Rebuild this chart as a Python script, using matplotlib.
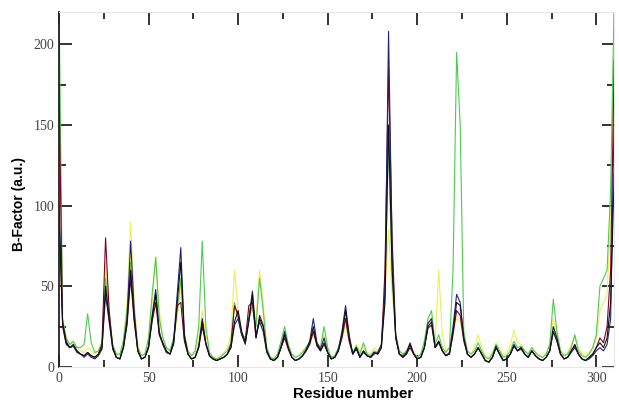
import numpy as np
import matplotlib.pyplot as plt
from matplotlib.ticker import MultipleLocator

# residue numbers, every 2nd residue
residues = list(range(0, 311, 2))

black = [95, 27, 15, 12, 14, 10, 8, 7, 9, 7, 6, 8, 12,
         50, 30, 12, 6, 5, 12, 28, 60, 30, 10, 5, 6, 12,
         30, 45, 20, 15, 10, 8, 15, 40, 65, 18, 8, 5, 6,
         12, 28, 15, 7, 5, 4, 5, 6, 8, 12, 28, 35, 22,
         15, 28, 45, 18, 30, 25, 10, 5, 4, 6, 12, 20, 12,
         6, 4, 5, 7, 10, 15, 25, 14, 10, 15, 9, 5, 6,
         10, 20, 35, 18, 8, 12, 6, 10, 7, 6, 9, 8, 12,
         40, 150, 60, 18, 8, 6, 8, 14, 8, 5, 6, 12, 25,
         28, 12, 16, 10, 7, 8, 22, 40, 38, 18, 8, 6, 8,
         12, 8, 4, 3, 6, 12, 8, 4, 5, 8, 13, 10, 12,
         8, 6, 10, 7, 5, 4, 6, 10, 25, 18, 8, 5, 6,
         10, 14, 8, 5, 4, 6, 8, 12, 15, 12, 18, 40, 120]

navy = [100, 28, 16, 12, 13, 9, 8, 6, 8, 6, 5, 7, 11,
        45, 28, 11, 6, 5, 13, 30, 78, 35, 10, 5, 6, 13,
        32, 48, 22, 14, 9, 8, 16, 45, 74, 20, 8, 5, 6,
        13, 30, 14, 7, 5, 4, 5, 6, 8, 12, 26, 30, 20,
        14, 30, 47, 20, 28, 22, 9, 5, 4, 6, 13, 22, 12,
        6, 4, 5, 7, 11, 16, 30, 15, 11, 18, 9, 5, 6,
        11, 22, 38, 20, 8, 11, 6, 9, 7, 6, 8, 9, 14,
        45, 208, 70, 18, 8, 7, 9, 15, 8, 5, 6, 12, 27,
        30, 12, 15, 10, 7, 9, 25, 45, 40, 18, 8, 6, 8,
        12, 8, 4, 3, 6, 13, 8, 4, 5, 8, 14, 10, 11,
        8, 6, 10, 7, 5, 4, 6, 10, 22, 16, 8, 5, 6,
        9, 12, 8, 5, 4, 5, 7, 10, 12, 10, 14, 30, 160]

maroon = [175, 25, 14, 12, 13, 10, 8, 7, 9, 7, 6, 8, 14,
          80, 35, 12, 6, 5, 12, 26, 55, 28, 10, 5, 6, 12,
          28, 40, 20, 14, 9, 8, 14, 38, 40, 16, 8, 5, 6,
          12, 25, 14, 7, 5, 4, 5, 6, 8, 14, 38, 32, 20,
          16, 38, 40, 18, 32, 26, 10, 5, 4, 6, 12, 18, 11,
          6, 4, 5, 7, 10, 14, 22, 13, 10, 14, 9, 5, 6,
          10, 18, 30, 16, 8, 12, 6, 10, 7, 6, 9, 8, 12,
          60, 185, 80, 20, 8, 6, 8, 12, 8, 5, 6, 12, 24,
          26, 12, 16, 10, 7, 8, 20, 35, 32, 16, 8, 6, 8,
          12, 8, 4, 3, 6, 12, 8, 4, 5, 8, 13, 10, 12,
          8, 6, 10, 7, 5, 4, 6, 10, 22, 16, 8, 5, 6,
          10, 13, 8, 5, 4, 6, 8, 12, 18, 15, 25, 60, 190]

green = [230, 30, 18, 14, 16, 12, 12, 14, 33, 15, 9, 10, 15,
         55, 32, 14, 8, 8, 16, 35, 65, 32, 12, 7, 8, 18,
         45, 68, 30, 18, 12, 10, 18, 35, 55, 20, 10, 7, 10,
         25, 78, 25, 9, 6, 5, 6, 8, 10, 15, 40, 30, 20,
         18, 30, 38, 25, 55, 35, 12, 6, 5, 8, 16, 25, 14,
         8, 6, 7, 9, 12, 16, 22, 15, 12, 25, 12, 6, 7,
         12, 20, 30, 18, 9, 13, 8, 15, 8, 7, 10, 9, 14,
         50, 140, 55, 20, 10, 8, 10, 14, 9, 6, 8, 16, 30,
         35, 14, 20, 12, 9, 12, 60, 195, 150, 22, 10, 8, 10,
         15, 10, 6, 5, 8, 14, 10, 6, 7, 10, 16, 12, 13,
         10, 8, 12, 9, 7, 6, 8, 14, 42, 22, 10, 7, 8,
         12, 20, 10, 7, 6, 8, 12, 20, 50, 55, 60, 110, 230]

yellow = [185, 30, 18, 14, 15, 12, 10, 9, 12, 10, 8, 10, 16,
          65, 35, 14, 8, 7, 18, 40, 90, 40, 14, 7, 8, 18,
          40, 68, 35, 18, 12, 10, 18, 30, 50, 22, 10, 7, 9,
          18, 35, 20, 9, 6, 5, 7, 9, 12, 20, 60, 35, 22,
          18, 30, 35, 30, 60, 40, 12, 6, 5, 8, 14, 18, 12,
          8, 6, 7, 10, 12, 14, 20, 15, 12, 20, 11, 6, 7,
          12, 18, 25, 16, 9, 14, 10, 12, 9, 8, 12, 10, 14,
          45, 85, 45, 20, 10, 8, 10, 12, 9, 6, 8, 14, 28,
          30, 15, 60, 20, 10, 12, 25, 30, 28, 18, 10, 8, 12,
          20, 12, 7, 6, 9, 15, 12, 7, 8, 14, 23, 15, 14,
          10, 8, 12, 9, 7, 6, 8, 14, 30, 20, 10, 7, 9,
          14, 18, 12, 8, 7, 9, 12, 18, 35, 40, 45, 90, 220]

fig = plt.figure(figsize=(6.19, 4.09), dpi=100)
ax = fig.add_axes([0.0953, 0.1027, 0.897, 0.868])

series = [(yellow, '#eeee55'), (green, '#4ccc4c'), (maroon, '#800020'),
          (navy, '#22227a'), (black, '#111111')]
for vals, col in series:
    ax.plot(residues, vals, color=col, lw=0.8)

ax.set_xlim(0, 310)
ax.set_ylim(0, 220)
ax.xaxis.set_major_locator(MultipleLocator(50))
ax.xaxis.set_minor_locator(MultipleLocator(25))
ax.yaxis.set_major_locator(MultipleLocator(50))
ax.yaxis.set_minor_locator(MultipleLocator(25))
ax.tick_params(which='both', direction='in', top=True, right=True,
               width=1.3, color='#222222')
ax.tick_params(which='major', length=9)
ax.tick_params(which='minor', length=5)
ax.tick_params(labelsize=10, labelcolor='#444444')
for lab in ax.get_xticklabels() + ax.get_yticklabels():
    lab.set_family('Liberation Serif')

for side in ['top', 'bottom', 'right']:
    ax.spines[side].set_color('#e8e8e8')
ax.spines['left'].set_color('#222222')
ax.spines['left'].set_linewidth(1.3)

ax.set_xlabel('Residue number', fontsize=11, fontweight='bold',
              family='Liberation Sans')
ax.set_ylabel('B-Factor (a.u.)', fontsize=10, fontweight='bold',
              family='Liberation Sans')
ax.xaxis.set_label_coords(0.53, -0.055)
ax.yaxis.set_label_coords(-0.06, 0.46)

fig.savefig('out.png', dpi=100)
